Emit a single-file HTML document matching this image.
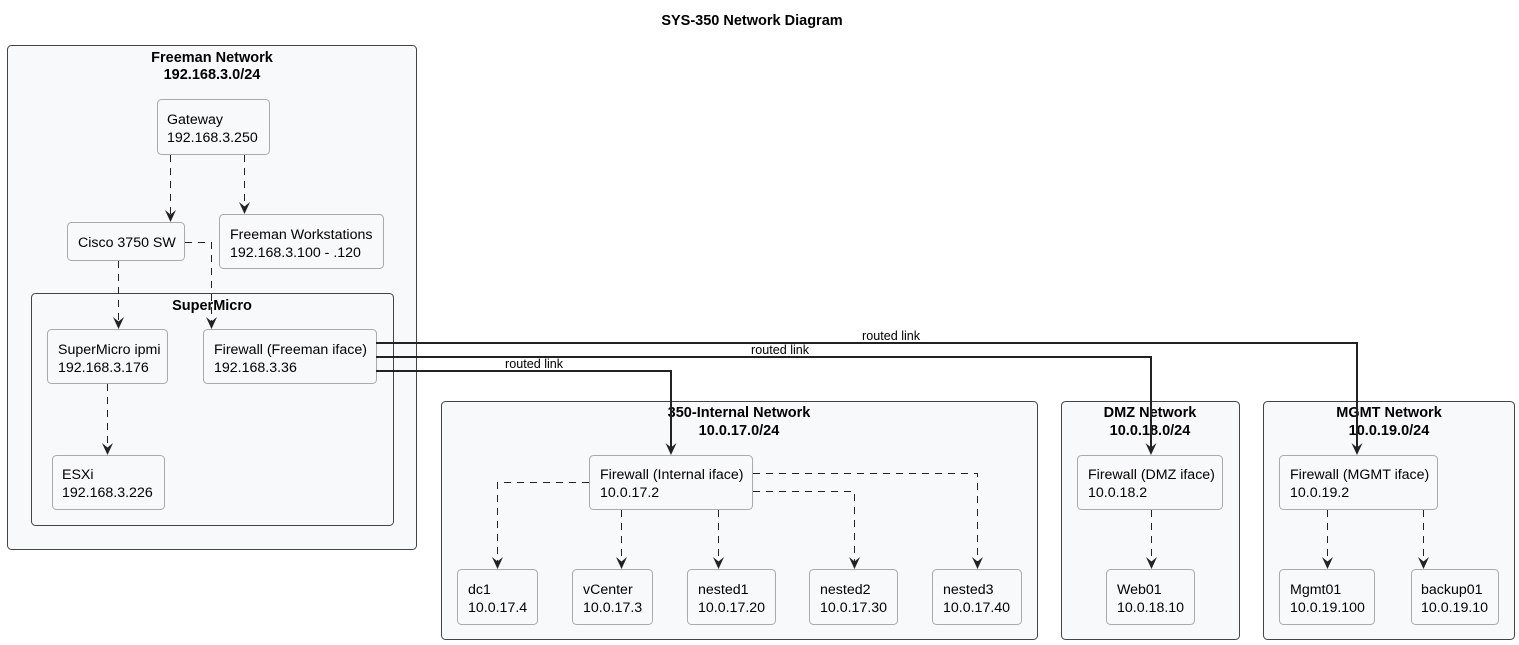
<!DOCTYPE html>
<html><head><meta charset="utf-8"><style>
html,body{margin:0;padding:0;background:#fff}
svg{display:block}
text{font-family:"Liberation Sans",sans-serif;font-size:14.2px;fill:#000}
.t{font-weight:bold;text-anchor:middle;font-size:14.5px}
.c{fill:#f8f9fa;stroke:#444;stroke-width:1}
.n{fill:#f8f9fa;stroke:#aaa;stroke-width:1}
.d{fill:none;stroke:#222;stroke-width:1;stroke-dasharray:7,6}
.s{fill:none;stroke:#222;stroke-width:2}
.a{fill:#222}
.l{font-size:12.6px}
</style></head><body>
<svg width="1519" height="645" viewBox="0 0 1519 645" xmlns="http://www.w3.org/2000/svg">
<defs>
<g id="ah"><polygon class="a" points="0,0 -5.5,-12 0,-7.5 5.5,-12"/></g>
</defs>
<text class="t" x="752" y="25">SYS-350 Network Diagram</text>

<!-- Freeman -->
<rect class="c" x="7.5" y="45.5" width="409" height="504" rx="4"/>
<text class="t" x="212" y="62">Freeman Network</text>
<text class="t" x="212" y="79">192.168.3.0/24</text>
<rect class="n" x="157.5" y="99.5" width="112" height="55" rx="4"/>
<text x="167" y="124">Gateway</text><text x="167" y="142">192.168.3.250</text>
<rect class="n" x="67.5" y="222.5" width="117" height="38" rx="4"/>
<text x="78" y="247">Cisco 3750 SW</text>
<rect class="n" x="219.5" y="214.5" width="164" height="54" rx="4"/>
<text x="230" y="239">Freeman Workstations</text><text x="230" y="257">192.168.3.100 - .120</text>
<rect class="c" x="31.5" y="293.5" width="362" height="232" rx="4"/>
<text class="t" x="212" y="310">SuperMicro</text>
<rect class="n" x="47.5" y="329.5" width="120" height="54" rx="4"/>
<text x="58" y="354">SuperMicro ipmi</text><text x="58" y="372">192.168.3.176</text>
<rect class="n" x="203.5" y="329.5" width="173" height="54" rx="4"/>
<text x="214" y="354">Firewall (Freeman iface)</text><text x="214" y="372">192.168.3.36</text>
<rect class="n" x="52.5" y="455.5" width="112" height="54" rx="4"/>
<text x="62" y="479">ESXi</text><text x="62" y="497">192.168.3.226</text>

<path class="d" d="M170.5 155 V220"/><use href="#ah" x="170.5" y="222"/>
<path class="d" d="M244.5 155 V212"/><use href="#ah" x="244.5" y="214"/>
<path class="d" d="M118.5 261 V327"/><use href="#ah" x="118.5" y="329"/>
<path class="d" d="M185 242.5 H211.5 V327"/><use href="#ah" x="211.5" y="329"/>
<path class="d" d="M107.5 384 V453"/><use href="#ah" x="107.5" y="455"/>

<!-- 350-Internal -->
<rect class="c" x="441.5" y="401.5" width="596" height="238" rx="4"/>
<text class="t" x="739" y="417">350-Internal Network</text>
<text class="t" x="739" y="435">10.0.17.0/24</text>
<rect class="n" x="589.5" y="455.5" width="163" height="54" rx="4"/>
<text x="600" y="479">Firewall (Internal iface)</text><text x="600" y="497">10.0.17.2</text>
<rect class="n" x="457.5" y="569.5" width="80" height="55" rx="4"/>
<text x="468" y="594">dc1</text><text x="468" y="612">10.0.17.4</text>
<rect class="n" x="572.5" y="569.5" width="80" height="55" rx="4"/>
<text x="583" y="594">vCenter</text><text x="583" y="612">10.0.17.3</text>
<rect class="n" x="687.5" y="569.5" width="88" height="55" rx="4"/>
<text x="698" y="594">nested1</text><text x="698" y="612">10.0.17.20</text>
<rect class="n" x="809.5" y="569.5" width="88" height="55" rx="4"/>
<text x="820" y="594">nested2</text><text x="820" y="612">10.0.17.30</text>
<rect class="n" x="932.5" y="569.5" width="89" height="55" rx="4"/>
<text x="943" y="594">nested3</text><text x="943" y="612">10.0.17.40</text>
<path class="d" d="M589 482.5 H497.5 V567"/><use href="#ah" x="497.5" y="569"/>
<path class="d" d="M621.5 510 V567"/><use href="#ah" x="621.5" y="569"/>
<path class="d" d="M718.5 510 V567"/><use href="#ah" x="718.5" y="569"/>
<path class="d" d="M753 491.5 H854.5 V567"/><use href="#ah" x="854.5" y="569"/>
<path class="d" d="M753 473.5 H977.5 V567"/><use href="#ah" x="977.5" y="569"/>

<!-- DMZ -->
<rect class="c" x="1061.5" y="401.5" width="178" height="238" rx="4"/>
<text class="t" x="1150" y="417">DMZ Network</text>
<text class="t" x="1150" y="435">10.0.18.0/24</text>
<rect class="n" x="1077.5" y="455.5" width="145" height="54" rx="4"/>
<text x="1088" y="479">Firewall (DMZ iface)</text><text x="1088" y="497">10.0.18.2</text>
<rect class="n" x="1106.5" y="569.5" width="88" height="55" rx="4"/>
<text x="1117" y="594">Web01</text><text x="1117" y="612">10.0.18.10</text>
<path class="d" d="M1151.5 510 V567"/><use href="#ah" x="1151.5" y="569"/>

<!-- MGMT -->
<rect class="c" x="1263.5" y="401.5" width="251" height="238" rx="4"/>
<text class="t" x="1389" y="417">MGMT Network</text>
<text class="t" x="1389" y="435">10.0.19.0/24</text>
<rect class="n" x="1279.5" y="455.5" width="158" height="54" rx="4"/>
<text x="1290" y="479">Firewall (MGMT iface)</text><text x="1290" y="497">10.0.19.2</text>
<rect class="n" x="1279.5" y="569.5" width="95" height="55" rx="4"/>
<text x="1290" y="594">Mgmt01</text><text x="1290" y="612">10.0.19.100</text>
<rect class="n" x="1411.5" y="569.5" width="87" height="55" rx="4"/>
<text x="1421" y="594">backup01</text><text x="1421" y="612">10.0.19.10</text>
<path class="d" d="M1327.5 510 V567"/><use href="#ah" x="1327.5" y="569"/>
<path class="d" d="M1423.5 510 V567"/><use href="#ah" x="1423.5" y="569"/>

<!-- routed links -->
<path class="s" d="M376 343 H1357 V452"/><use href="#ah" x="1357" y="455"/>
<text class="l" x="862" y="340">routed link</text>
<path class="s" d="M376 357 H1151 V452"/><use href="#ah" x="1151" y="455"/>
<text class="l" x="751" y="354">routed link</text>
<path class="s" d="M376 371 H671 V452"/><use href="#ah" x="671" y="455"/>
<text class="l" x="505" y="368">routed link</text>
</svg>
</body></html>
